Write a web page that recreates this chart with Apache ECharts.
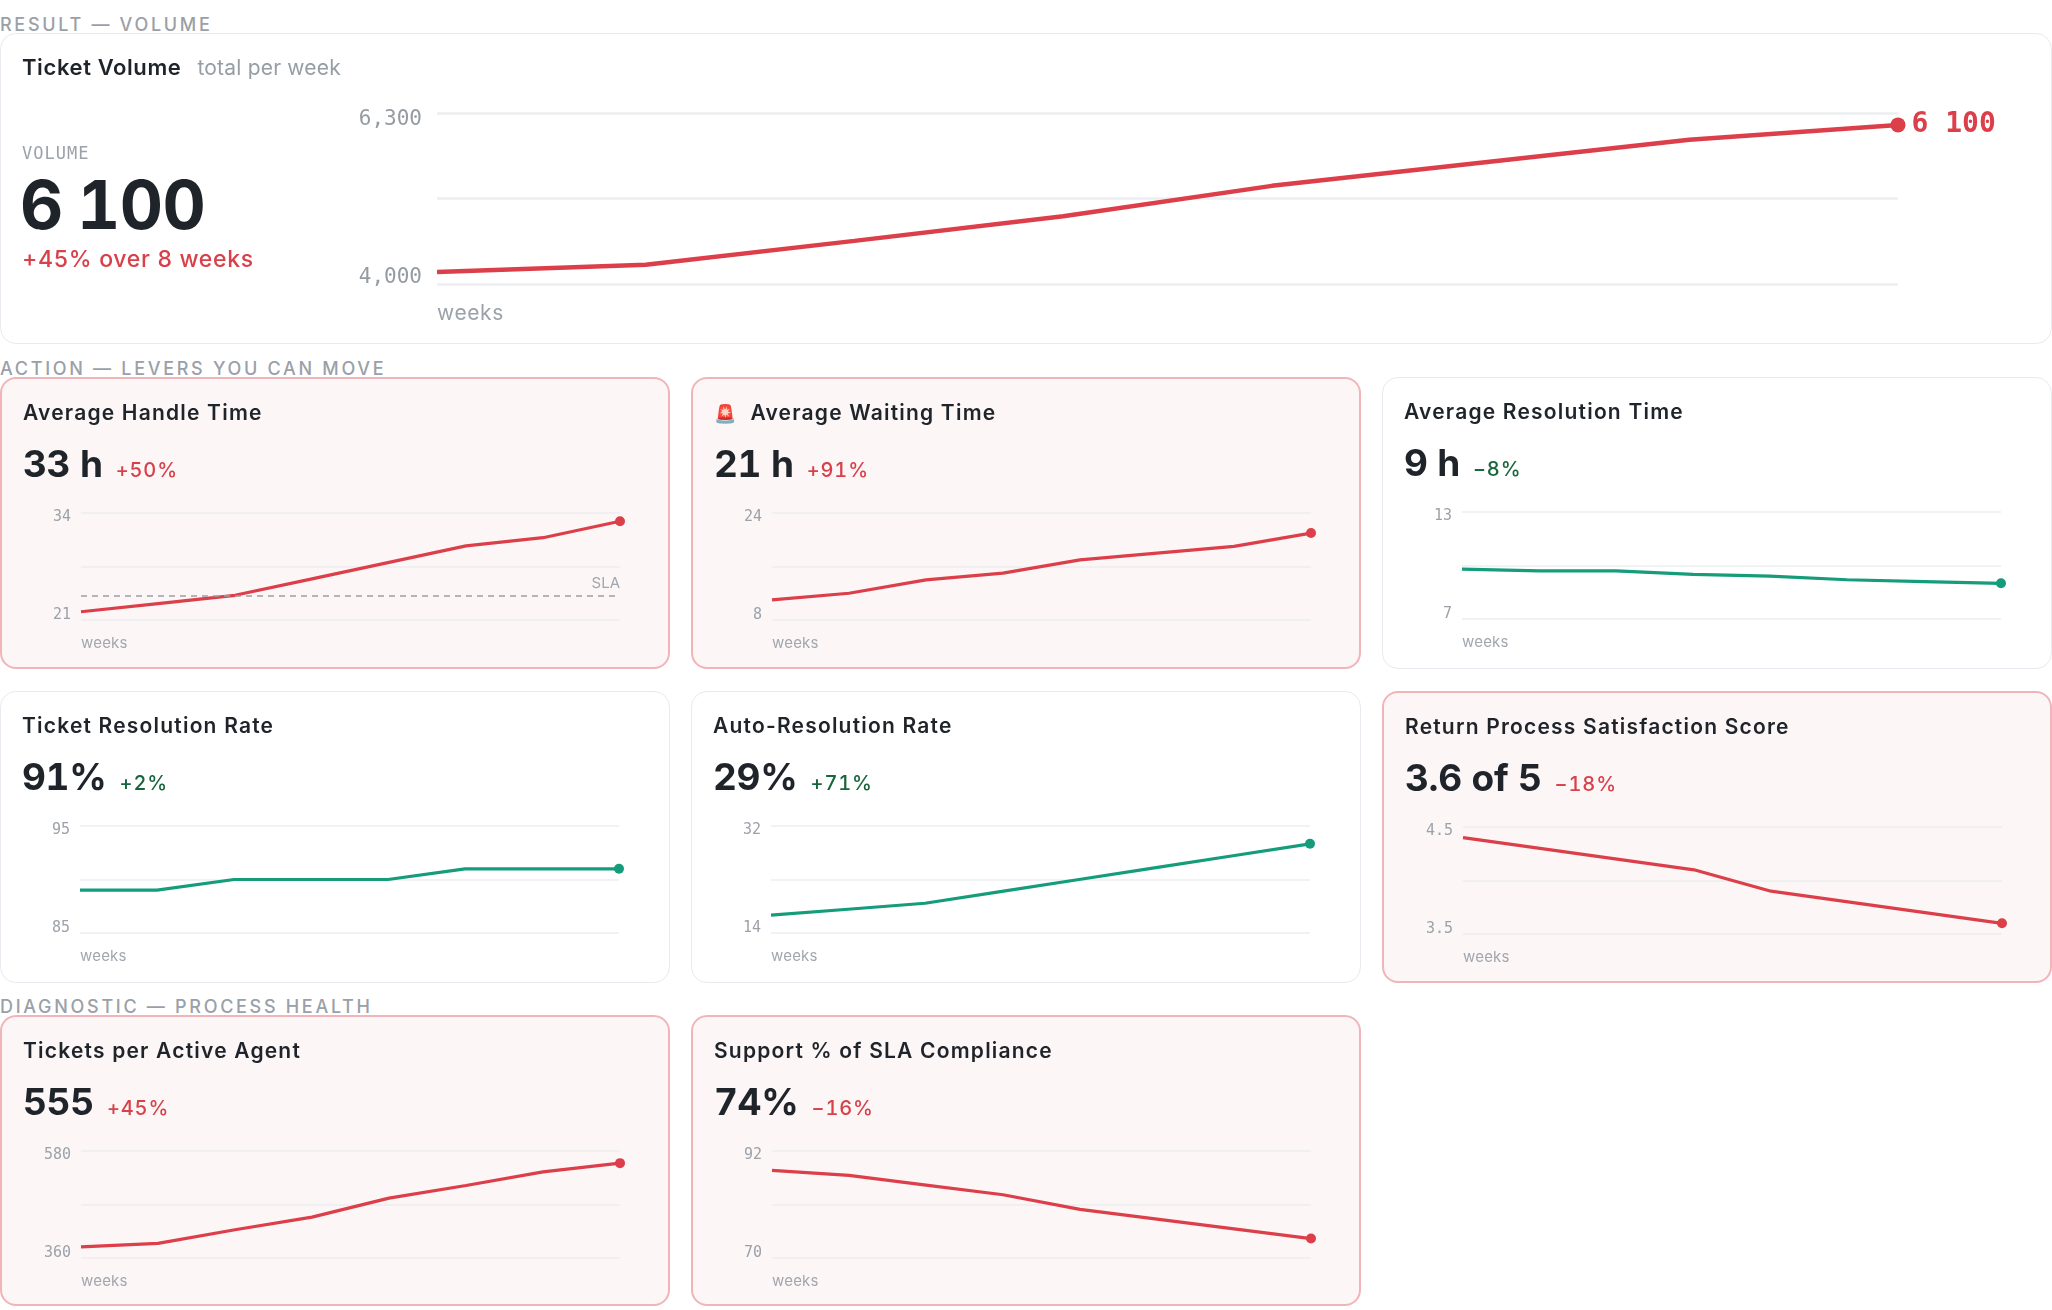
<!DOCTYPE html>
<html>
<head>
<meta charset="utf-8">
<script src="https://cdn.jsdelivr.net/npm/echarts@6/dist/echarts.min.js"></script>
<style>
body{margin:0;background:#fff;font-family:Inter,"Noto Sans",sans-serif;}
#page{position:relative;width:2052px;height:1310px;overflow:hidden;}
.section{position:absolute;left:0;font-size:18px;font-weight:500;letter-spacing:2.7px;color:#9aa0a7;line-height:22px;white-space:nowrap;}
.card{position:absolute;box-sizing:border-box;border:1.5px solid #e7eaee;border-radius:16px;background:#fff;}
.card.bad{border:2px solid #f1b5b9;background:#fcf6f6;}
.chart{position:absolute;left:0;top:0;width:100%;height:100%;}
.title{position:absolute;left:21px;top:20px;font-size:21px;font-weight:600;color:#1f242a;line-height:28px;white-space:nowrap;letter-spacing:1.2px;}
.title .muted{color:#979da4;font-weight:400;font-size:21px;margin-left:16px;letter-spacing:0.2px;}
.value{position:absolute;left:21px;top:62px;line-height:46px;white-space:nowrap;font-variant-numeric:tabular-nums;}
.value b{font-size:37px;font-weight:700;color:#1f242a;letter-spacing:-0.3px;}
.value span{font-size:20px;font-weight:500;margin-left:13px;letter-spacing:0.9px;}
.weeks{position:absolute;left:79px;top:255px;font-size:15px;color:#a1a7ae;line-height:18px;letter-spacing:0.2px;}
.red{color:#d8404a;}
.green{color:#17653a;}
.emoji{font-family:"Noto Color Emoji","Noto Sans",sans-serif;font-size:18px;margin-right:14px;letter-spacing:0;}
</style>
</head>
<body>
<div id="page"></div>
<script>
// weekly series, 8 weeks each
var weeks = ['W1', 'W2', 'W3', 'W4', 'W5', 'W6', 'W7', 'W8'];
var ticketVolume = [4160, 4260, 4580, 4910, 5320, 5630, 5940, 6140];
var handleTime = [22, 23, 24, 26, 28, 30, 31, 33];
var waitingTime = [11, 12, 14, 15, 17, 18, 19, 21];
var resolutionTime = [9.8, 9.7, 9.7, 9.5, 9.4, 9.2, 9.1, 9.0];
var resolutionRate = [89, 89, 90, 90, 90, 91, 91, 91];
var autoResolution = [17, 18, 19, 21, 23, 25, 27, 29];
var satisfaction = [4.4, 4.3, 4.2, 4.1, 3.9, 3.8, 3.7, 3.6];
var ticketsPerAgent = [383, 390, 418, 444, 483, 509, 537, 555];
var slaCompliance = [88, 87, 85, 83, 80, 78, 76, 74];
var handleTimeSla = 24;

// y axis ranges (min / max tick labels)
var volumeTicks = [4000, 6300];
var handleTicks = [21, 34];
var waitingTicks = [8, 24];
var resolutionTimeTicks = [7, 13];
var resolutionRateTicks = [85, 95];
var autoTicks = [14, 32];
var satisfactionTicks = [3.5, 4.5];
var agentTicks = [360, 580];
var slaTicks = [70, 92];

var RED = '#dc3f49';
var GREEN = '#159c7a';

var cards = [
    {title: 'Average Handle Time', value: '33 h', delta: '+50%', bad: true, data: handleTime, ticks: handleTicks, sla: handleTimeSla},
    {title: 'Average Waiting Time', emoji: '\uD83D\uDEA8', value: '21 h', delta: '+91%', bad: true, data: waitingTime, ticks: waitingTicks},
    {title: 'Average Resolution Time', value: '9 h', delta: '\u22128%', bad: false, data: resolutionTime, ticks: resolutionTimeTicks},
    {title: 'Ticket Resolution Rate', value: '91%', delta: '+2%', bad: false, data: resolutionRate, ticks: resolutionRateTicks},
    {title: 'Auto-Resolution Rate', value: '29%', delta: '+71%', bad: false, data: autoResolution, ticks: autoTicks},
    {title: 'Return Process Satisfaction Score', value: '3.6 of 5', delta: '\u221218%', bad: true, data: satisfaction, ticks: satisfactionTicks, decimals: 1},
    {title: 'Tickets per Active Agent', value: '555', delta: '+45%', bad: true, data: ticketsPerAgent, ticks: agentTicks},
    {title: 'Support % of SLA Compliance', value: '74%', delta: '\u221216%', bad: true, data: slaCompliance, ticks: slaTicks}
];

// layout
var colX = [0, 691, 1382];
var rowY = [377, 691, 1015];
var cardW = 670, cardH = 292;

var page = document.getElementById('page');

function el(tag, cls, style, html) {
    var d = document.createElement(tag);
    if (cls) d.className = cls;
    if (style) d.style.cssText = style;
    if (html !== undefined) d.innerHTML = html;
    return d;
}

function section(text, y) {
    page.appendChild(el('div', 'section', 'top:' + (y - 11) + 'px', text));
}

function lastPoint(data, size, label) {
    return data.map(function (v, i) {
        if (i !== data.length - 1) return v;
        var item = {value: v, symbolSize: size};
        if (label) item.label = label;
        return item;
    });
}

function yLabelFormatter(ticks, decimals, comma) {
    return function (v) {
        if (Math.abs(v - ticks[0]) > 1e-6 && Math.abs(v - ticks[1]) > 1e-6) return '';
        var s = decimals ? v.toFixed(decimals) : String(Math.round(v));
        if (comma) s = s.replace(/\B(?=(\d{3})+(?!\d))/g, ',');
        return s;
    };
}

function sparkOption(c) {
    var color = c.bad ? RED : GREEN;
    var series = {
        type: 'line',
        data: lastPoint(c.data, 10),
        symbol: 'circle',
        symbolSize: 0,
        showAllSymbol: true,
        itemStyle: {color: color},
        lineStyle: {color: color, width: 3.2},
        silent: true
    };
    if (c.sla) {
        series.markLine = {
            silent: true,
            symbol: 'none',
            data: [{yAxis: c.sla}],
            lineStyle: {color: '#9aa0a7', type: [6, 5], width: 1.6},
            label: {show: true, position: 'insideEndTop', formatter: 'SLA', color: '#a1a7ae', fontSize: 15, fontFamily: 'Inter', distance: [0, 4]}
        };
    }
    return {
        animation: false,
        grid: {left: 79, top: 134, width: 539, height: 107},
        xAxis: {
            type: 'category', data: weeks, boundaryGap: false,
            axisLine: {show: false}, axisTick: {show: false}, axisLabel: {show: false}
        },
        yAxis: {
            type: 'value', min: c.ticks[0], max: c.ticks[1], interval: (c.ticks[1] - c.ticks[0]) / 2,
            axisLine: {show: false}, axisTick: {show: false},
            splitLine: {lineStyle: {color: '#eceef1', width: 1.5}},
            axisLabel: {
                color: '#9ca2a9', fontSize: 15, lineHeight: 9, fontFamily: 'DejaVu Sans Mono', margin: 10,
                verticalAlignMinLabel: 'bottom', verticalAlignMaxLabel: 'top',
                formatter: yLabelFormatter(c.ticks, c.decimals, false)
            }
        },
        series: [series]
    };
}

// result section
section('RESULT \u2014 VOLUME', 25);
var topCard = el('div', 'card', 'left:0;top:33px;width:2052px;height:311px;');
page.appendChild(topCard);
var topChart = el('div', 'chart');
topCard.appendChild(topChart);
topCard.appendChild(el('div', 'title', 'top:19px;font-size:22px;letter-spacing:0.6px;', 'Ticket Volume<span class="muted">total per week</span>'));
topCard.appendChild(el('div', '', 'position:absolute;left:21px;top:108px;font-family:\'DejaVu Sans Mono\';font-size:17px;color:#9ca2a9;letter-spacing:1px;line-height:22px;', 'VOLUME'));
topCard.appendChild(el('div', '', 'position:absolute;left:19px;top:133px;font-size:67px;font-weight:700;color:#1f242a;line-height:76px;letter-spacing:-0.6px;word-spacing:-3px;font-variant-numeric:tabular-nums;', '6 100'));
topCard.appendChild(el('div', 'red', 'position:absolute;left:21px;top:211px;font-size:23px;font-weight:500;line-height:28px;letter-spacing:0.7px;', '+45% over 8 weeks'));
topCard.appendChild(el('div', '', 'position:absolute;left:436px;top:267px;font-size:21px;color:#9ca2a9;line-height:24px;letter-spacing:0.6px;', 'weeks'));

var volChart = echarts.init(topChart);
volChart.setOption({
    animation: false,
    grid: {left: 436, top: 79, width: 1461, height: 171},
    xAxis: {
        type: 'category', data: weeks, boundaryGap: false,
        axisLine: {show: false}, axisTick: {show: false}, axisLabel: {show: false}
    },
    yAxis: {
        type: 'value', min: volumeTicks[0], max: volumeTicks[1], interval: (volumeTicks[1] - volumeTicks[0]) / 2,
        axisLine: {show: false}, axisTick: {show: false},
        splitLine: {lineStyle: {color: '#eceef1', width: 2.5}},
        axisLabel: {
            color: '#959ba2', fontSize: 21, lineHeight: 13, fontFamily: 'DejaVu Sans Mono', margin: 15,
            verticalAlignMinLabel: 'bottom', verticalAlignMaxLabel: 'top',
            formatter: yLabelFormatter(volumeTicks, 0, true)
        }
    },
    series: [{
        type: 'line',
        data: lastPoint(ticketVolume, 15, {
            show: true, position: 'right', distance: 6,
            color: RED, fontSize: 28, fontWeight: 'bold', fontFamily: 'DejaVu Sans Mono',
            formatter: function (p) {
                return String(Math.floor(p.value / 100) * 100).replace(/\B(?=(\d{3})+(?!\d))/g, ' ');
            }
        }),
        symbol: 'circle',
        symbolSize: 0,
        showAllSymbol: true,
        itemStyle: {color: RED},
        lineStyle: {color: RED, width: 4.5},
        silent: true
    }]
});

// action + diagnostic sections
section('ACTION \u2014 LEVERS YOU CAN MOVE', 369);
section('DIAGNOSTIC \u2014 PROCESS HEALTH', 1007);

cards.forEach(function (c, i) {
    var x = colX[i % 3], y = rowY[Math.floor(i / 3)];
    var card = el('div', 'card' + (c.bad ? ' bad' : ''), 'left:' + x + 'px;top:' + y + 'px;width:' + cardW + 'px;height:' + (i >= 6 ? cardH - 1 : cardH) + 'px;');
    page.appendChild(card);
    var chartDom = el('div', 'chart');
    card.appendChild(chartDom);
    var t = (c.emoji ? '<span class="emoji">' + c.emoji + '</span>' : '') + c.title;
    card.appendChild(el('div', 'title', '', t));
    card.appendChild(el('div', 'value', '', '<b>' + c.value + '</b><span class="' + (c.bad ? 'red' : 'green') + '">' + c.delta + '</span>'));
    card.appendChild(el('div', 'weeks', '', 'weeks'));
    var chart = echarts.init(chartDom);
    chart.setOption(sparkOption(c));
});
</script>
</body>
</html>
